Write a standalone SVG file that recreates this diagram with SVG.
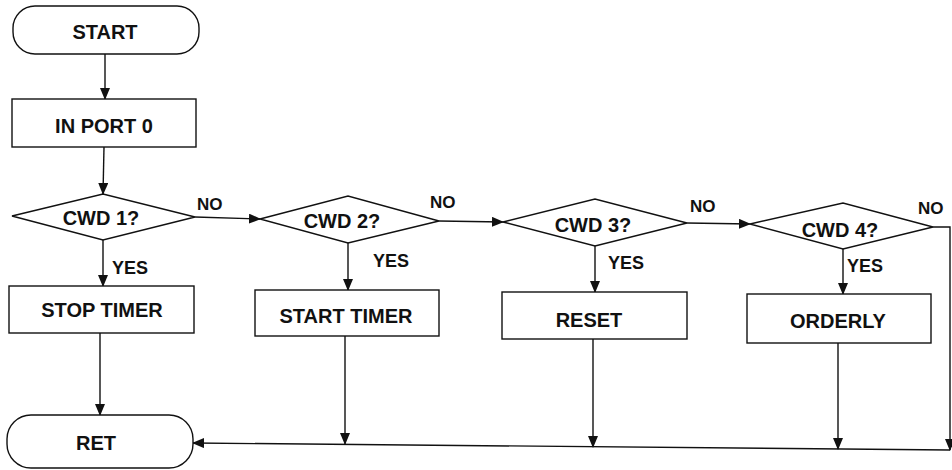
<svg xmlns="http://www.w3.org/2000/svg" width="952" height="470" viewBox="0 0 952 470">
  <style>
    .shape { fill: #ffffff; stroke: #111111; stroke-width: 1.4; }
    .wire { fill: none; stroke: #111111; stroke-width: 1.4; }
    .label { font-family: "Liberation Sans", Arial, sans-serif; font-weight: bold; font-size: 20px; fill: #111111; text-anchor: middle; }
    .branch { font-family: "Liberation Sans", Arial, sans-serif; font-weight: bold; font-size: 17px; fill: #111111; }
    .yes { font-size: 18px; }
  </style>
  <defs>
    <marker id="arrow" markerUnits="userSpaceOnUse" markerWidth="12" markerHeight="10" refX="11" refY="5" orient="auto">
      <path d="M0,0 L12,5 L0,10 Z" fill="#111111"/>
    </marker>
  </defs>
  <rect width="952" height="470" fill="#ffffff"/>

  <!-- connectors -->
  <g id="connectors">
    <path class="wire" d="M105,54 L105,99" marker-end="url(#arrow)"/>
    <path class="wire" d="M104,147 L103,194" marker-end="url(#arrow)"/>
    <path class="wire" d="M195,217 L260,219" marker-end="url(#arrow)"/>
    <path class="wire" d="M439,221 L503,222" marker-end="url(#arrow)"/>
    <path class="wire" d="M687,223 L750,224" marker-end="url(#arrow)"/>
    <path class="wire" d="M933,227 L950,227 L950,450" marker-end="url(#arrow)"/>
    <path class="wire" d="M103,240 L103,286" marker-end="url(#arrow)"/>
    <path class="wire" d="M348,243 L348,290" marker-end="url(#arrow)"/>
    <path class="wire" d="M595,246 L595,292" marker-end="url(#arrow)"/>
    <path class="wire" d="M843,249 L843,294" marker-end="url(#arrow)"/>
    <path class="wire" d="M100,333 L100,415" marker-end="url(#arrow)"/>
    <path class="wire" d="M345,336 L345,444" marker-end="url(#arrow)"/>
    <path class="wire" d="M593,339 L593,447" marker-end="url(#arrow)"/>
    <path class="wire" d="M838,343 L838,449" marker-end="url(#arrow)"/>
    <path class="wire" d="M950,450 L193,443" marker-end="url(#arrow)"/>
    <text class="branch" x="197" y="210">NO</text>
    <text class="branch" x="430" y="208">NO</text>
    <text class="branch" x="690" y="212">NO</text>
    <text class="branch" x="918" y="214">NO</text>
    <text class="branch yes" x="112" y="274">YES</text>
    <text class="branch yes" x="373" y="267">YES</text>
    <text class="branch yes" x="608" y="269">YES</text>
    <text class="branch yes" x="847" y="272">YES</text>
  </g>

  <g id="start">
    <rect class="shape" x="13" y="6" width="186" height="48" rx="22" ry="22"/>
    <text class="label" x="105" y="39">START</text>
  </g>
  <g id="in-port-0">
    <rect class="shape" x="12" y="99" width="184" height="48"/>
    <text class="label" x="104" y="133">IN PORT 0</text>
  </g>

  <g id="cwd1">
    <polygon class="shape" points="12,216 103,194 195,217 103,240"/>
    <text class="label" x="101" y="225">CWD 1?</text>
  </g>
  <g id="cwd2">
    <polygon class="shape" points="260,219 348,196 439,221 348,243"/>
    <text class="label" x="342" y="228">CWD 2?</text>
  </g>
  <g id="cwd3">
    <polygon class="shape" points="503,222 595,199 687,223 595,246"/>
    <text class="label" x="593" y="232">CWD 3?</text>
  </g>
  <g id="cwd4">
    <polygon class="shape" points="750,224 843,203 933,227 843,249"/>
    <text class="label" x="840" y="237">CWD 4?</text>
  </g>

  <g id="stop-timer">
    <rect class="shape" x="9" y="286" width="185" height="47"/>
    <text class="label" x="102" y="317">STOP TIMER</text>
  </g>
  <g id="start-timer">
    <rect class="shape" x="255" y="290" width="184" height="46"/>
    <text class="label" x="346" y="323">START TIMER</text>
  </g>
  <g id="reset">
    <rect class="shape" x="502" y="292" width="185" height="47"/>
    <text class="label" x="589" y="327">RESET</text>
  </g>
  <g id="orderly">
    <rect class="shape" x="747" y="294" width="184" height="49"/>
    <text class="label" x="838" y="328">ORDERLY</text>
  </g>

  <g id="ret">
    <rect class="shape" x="7" y="415" width="186" height="53" rx="24" ry="24"/>
    <text class="label" x="96" y="450">RET</text>
  </g>
</svg>
